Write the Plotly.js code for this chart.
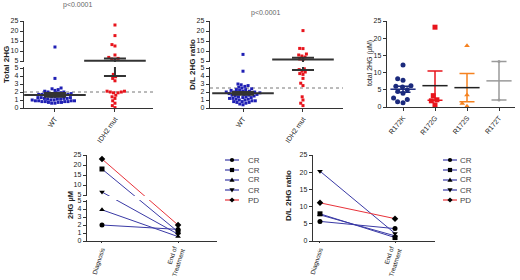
<!DOCTYPE html>
<html><head><meta charset="utf-8">
<script src="https://cdn.plot.ly/plotly-3.0.1.min.js"></script>
<style>html,body{margin:0;padding:0;background:#fff}#chart{width:520px;height:280px}</style>
</head><body><div id="chart"></div>
<script>
// ---------------- DATA ----------------
const groups12 = ['WT', 'IDH2 mut'];
const pLabel = 'p<0.0001';
const total2hgWT = [12.0, 3.7, 2.5, 2.4, 2.3, 2.2, 2.1, 2.0, 2.0, 1.9, 1.9, 1.8, 1.8, 1.8, 1.7, 1.7, 1.7, 1.6, 1.6, 1.5, 1.5, 1.5, 1.4, 1.4, 1.3, 1.3, 1.3, 1.2, 1.2, 1.2, 1.1, 1.1, 1.1, 1.0, 1.0, 1.0, 0.9, 0.9, 0.9, 0.9, 0.8, 0.8, 0.8, 0.8, 0.7, 0.7, 0.7, 0.6, 0.6];
const total2hgIDH2 = [23.0, 17.7, 13.2, 12.5, 8.0, 6.8, 6.3, 6.0, 5.8, 4.2, 3.9, 3.7, 3.4, 2.1, 2.1, 2.0, 2.0, 1.9, 1.9, 1.6, 1.4, 1.2, 0.9, 0.6, 0.3, 0.05];
const total2hgCutoff = 2.0;
const ratioWT = [8.3, 4.6, 3.0, 2.9, 2.8, 2.7, 2.6, 2.5, 2.4, 2.3, 2.3, 2.2, 2.2, 2.1, 2.1, 2.0, 2.0, 2.0, 1.9, 1.9, 1.9, 1.8, 1.8, 1.8, 1.7, 1.7, 1.6, 1.6, 1.5, 1.5, 1.4, 1.4, 1.3, 1.3, 1.2, 1.2, 1.1, 1.1, 1.0, 1.0, 0.9, 0.9, 0.8, 0.8, 0.7, 0.7, 0.6, 0.5, 0.4];
const ratioIDH2 = [20.2, 11.3, 11.2, 8.5, 8.0, 7.5, 7.0, 6.0, 5.7, 4.9, 4.8, 4.6, 4.5, 4.3, 4.2, 3.7, 3.1, 2.8, 1.4, 1.0, 0.6, 0.3];
const ratioCutoff = 2.5;

const r172Groups = ['R172K', 'R172G', 'R172S', 'R172T'];
const r172K = [12.2, 8.2, 7.8, 6.2, 6.0, 5.8, 5.0, 4.5, 4.0, 2.6, 2.2, 1.5, 1.2];
const r172G = [23.2, 3.3, 2.1, 1.8, 0.6];
const r172S = [17.8, 3.5, 1.0, 0.2];
const r172T = [13.2, 2.0];

const timepoints = ['Diagnosis', 'End of<br>Treatment'];
const responseLabels = ['CR', 'CR', 'CR', 'CR', 'PD'];
const total2hgDiagnosis = [2.0, 18.0, 3.9, 6.5, 23.0];
const total2hgEnd = [1.45, 1.15, 0.55, 0.85, 2.0];
const ratioDiagnosis = [5.7, 7.9, 7.6, 20.3, 11.1];
const ratioEnd = [3.6, 1.0, 1.5, 2.2, 6.5];

// ---------------- STYLE / GEOMETRY ----------------
const W = 520, H = 280;
const FONT = 'Liberation Sans, Arial, sans-serif';
const AX = '#333';
const blue = '#1f1fb4', red = '#e8141c', navy = '#1b2a7d', orange = '#f58220', grey = '#9a9a9a';
const lineBlue = '#3a3aa6', lineRed = '#e8323a';
const symbols = ['circle', 'square', 'triangle-up', 'triangle-down', 'diamond'];

const G = {
  p1: {x0: 24, x1: 153, yT: 21, yB: 108, gapPx: 7, xr: [-0.516, 1.634]},
  p2: {x0: 210, x1: 343, yT: 21, yB: 108, gapPx: 7, xr: [-0.55, 1.667]},
  p3: {x0: 387, x1: 515, yT: 21, yB: 107, xr: [-0.5, 3.5]},
  p4: {x0: 87, x1: 217, yT: 155, yB: 241, gapPx: 6, xr: [-0.197, 1.512]},
  p5: {x0: 313, x1: 435, yT: 155, yB: 241, xr: [-0.093, 1.533]}
};
// broken axis: lower 0-5, upper 5-25 compressed 4x
function mkBreak(p) {
  p.lowPx = (p.yB - p.yT - p.gapPx) / 2;
  p.pxU = p.lowPx / 5;
  p.g = p.gapPx / p.pxU;
  p.tf = v => v <= 5 ? v : 5 + p.g + (v - 5) / 4;
  p.yr = [0, p.tf(25)];
}
[G.p1, G.p2, G.p4].forEach(mkBreak);
G.p3.tf = v => v; G.p3.yr = [0, 25]; G.p3.pxU = (G.p3.yB - G.p3.yT) / 25;
G.p5.tf = v => v; G.p5.yr = [0, 25];
for (const k in G) { const p = G[k]; p.pxX = (p.x1 - p.x0) / (p.xr[1] - p.xr[0]); }

function swarm(vals, tf, pxPerY, pxPerX, d) {
  const idx = vals.map((v, i) => i).sort((a, b) => vals[a] - vals[b]);
  const placed = [], off = new Array(vals.length);
  for (const i of idx) {
    const y = tf(vals[i]) * pxPerY;
    const near = placed.filter(p => Math.abs(p.y - y) < d);
    const c = [0];
    near.forEach(p => { const dx = Math.sqrt(d * d - (p.y - y) ** 2); c.push(p.x + dx + 0.01, p.x - dx - 0.01); });
    const ok = c.filter(cx => near.every(p => (p.x - cx) ** 2 + (p.y - y) ** 2 >= d * d - 1e-6));
    ok.sort((a, b) => Math.abs(a) - Math.abs(b) || a - b);
    placed.push({x: ok[0], y}); off[i] = ok[0] / pxPerX;
  }
  return off;
}
function stats(v) {
  const n = v.length, m = v.reduce((a, b) => a + b, 0) / n;
  const sd = Math.sqrt(v.reduce((a, b) => a + (b - m) ** 2, 0) / (n - 1));
  return {m, se: sd / Math.sqrt(n)};
}

const traces = [];
function dotGroup(vals, pos, p, ax, color, sym, size, d) {
  const off = swarm(vals, p.tf, p.pxU, p.pxX, d);
  traces.push({type: 'scatter', mode: 'markers', xaxis: 'x' + ax, yaxis: 'y' + ax,
    x: vals.map((v, i) => pos + off[i]), y: vals.map(p.tf), cliponaxis: false,
    marker: {color, symbol: sym, size, line: {width: 0}}, hoverinfo: 'skip'});
}
function meanBar(vals, pos, p, ax, meanColor, errColor, meanW, capW, lw) {
  const s = stats(vals);
  const t = p.tf(s.m);
  traces.push({type: 'scatter', mode: 'markers', xaxis: 'x' + ax, yaxis: 'y' + ax, x: [pos], y: [t], cliponaxis: false,
    marker: {symbol: 'line-ew-open', size: meanW, color: meanColor, line: {width: lw, color: meanColor}},
    error_y: {type: 'data', symmetric: false, array: [p.tf(s.m + s.se) - t], arrayminus: [t - p.tf(Math.max(0, s.m - s.se))],
      width: capW, thickness: lw, color: errColor}, hoverinfo: 'skip'});
}

// Panel 1 & 2
dotGroup(total2hgWT, 0, G.p1, '', blue, 'square', 3, 3.3);
dotGroup(total2hgIDH2, 1, G.p1, '', red, 'square', 3, 3.3);
meanBar(total2hgWT, 0, G.p1, '', AX, AX, 44, 11, 2);
meanBar(total2hgIDH2, 1, G.p1, '', AX, AX, 44, 11, 2);
dotGroup(ratioWT, 0, G.p2, '2', blue, 'square', 3, 3.3);
dotGroup(ratioIDH2, 1, G.p2, '2', red, 'square', 3, 3.3);
meanBar(ratioWT, 0, G.p2, '2', AX, AX, 44, 11, 2);
meanBar(ratioIDH2, 1, G.p2, '2', AX, AX, 44, 11, 2);

// Panel 3
const r172Vals = [r172K, r172G, r172S, r172T];
const r172Col = [navy, red, orange, grey];
const r172Sym = ['circle', 'square', 'triangle-up', 'circle'];
const r172Mean = [navy, '#222', '#222', grey];
r172Vals.forEach((v, i) => {
  dotGroup(v, i, G.p3, '3', r172Col[i], r172Sym[i], i === 3 ? 3 : 5, 5.5);
  meanBar(v, i, G.p3, '3', r172Mean[i], r172Col[i], 18, 7.5, 1.5);
});

// Panel 4 & 5
function paired(diag, end, p, ax) {
  diag.forEach((d, i) => {
    traces.push({type: 'scatter', mode: 'lines+markers', xaxis: 'x' + ax, yaxis: 'y' + ax,
      x: [0, 1], y: [p.tf(d), p.tf(end[i])], cliponaxis: false,
      line: {color: responseLabels[i] === 'PD' ? lineRed : lineBlue, width: 1},
      marker: {symbol: symbols[i], size: 5, color: '#000'}, hoverinfo: 'skip'});
  });
}
paired(total2hgDiagnosis, total2hgEnd, G.p4, '4');
paired(ratioDiagnosis, ratioEnd, G.p5, '5');

// ---------------- LAYOUT ----------------
const layout = {width: W, height: H, margin: {l: 0, r: 0, t: 0, b: 0}, showlegend: false,
  paper_bgcolor: '#fff', plot_bgcolor: 'rgba(0,0,0,0)', font: {family: FONT, size: 7, color: '#222'},
  shapes: [], annotations: []};

function brokenTicks(p) {
  const v = [0, 1, 2, 3, 4, 5], txt = v.map(String);
  [5.00001, 10, 15, 20, 25].forEach(u => { v.push(p.tf(u)); txt.push(String(Math.round(u))); });
  return {tickvals: v, ticktext: txt};
}
function axes(key, ax, xticks, tickangle, broken, xfont, xticklen) {
  const p = G[key];
  const xa = {domain: [p.x0 / W, p.x1 / W], range: p.xr, anchor: 'y' + ax, showgrid: false, zeroline: false,
    showline: true, linecolor: AX, linewidth: 1.3, ticks: 'outside', ticklen: xticklen, tickwidth: 1, tickcolor: AX,
    tickvals: xticks.map((t, i) => i), ticktext: xticks, tickangle, tickfont: {size: xfont, color: '#222'}, fixedrange: true};
  const ya = {domain: [(H - p.yB) / H, (H - p.yT) / H], range: p.yr, anchor: 'x' + ax, showgrid: false, zeroline: false,
    showline: true, linecolor: AX, linewidth: 1.3, ticks: 'outside', ticklen: 3, tickwidth: 1, tickcolor: AX,
    tickfont: {size: 7, color: '#222'}, fixedrange: true};
  if (broken) Object.assign(ya, brokenTicks(p)); else Object.assign(ya, {tickvals: [0, 5, 10, 15, 20, 25]});
  layout['xaxis' + ax] = xa; layout['yaxis' + ax] = ya;
  if (broken) layout.shapes.push({type: 'rect', layer: 'above', xref: 'x' + ax + ' domain', yref: 'y' + ax,
    x0: -0.04, x1: 1.02, y0: 5 + 0.13, y1: 5 + p.g - 0.13, fillcolor: '#fff', line: {width: 0}});
}
axes('p1', '', groups12, -55, true, 7, 3);
axes('p2', '2', groups12, -55, true, 7, 3);
axes('p3', '3', r172Groups, -50, false, 7, 3);
axes('p4', '4', timepoints, -72, true, 6.3, 1);
axes('p5', '5', timepoints, -72, false, 6.3, 1);

// cutoff dotted lines
layout.shapes.push({type: 'line', layer: 'below', xref: 'x domain', yref: 'y', x0: 0, x1: 1, y0: G.p1.tf(total2hgCutoff), y1: G.p1.tf(total2hgCutoff), line: {color: '#777', width: 1, dash: 'dot'}});
layout.shapes.push({type: 'line', layer: 'below', xref: 'x2 domain', yref: 'y2', x0: 0, x1: 1, y0: G.p2.tf(ratioCutoff), y1: G.p2.tf(ratioCutoff), line: {color: '#777', width: 1, dash: 'dot'}});

// text
function ann(text, px, py, opts) {
  layout.annotations.push(Object.assign({text, xref: 'paper', yref: 'paper', x: px / W, y: (H - py) / H,
    showarrow: false, xanchor: 'center', yanchor: 'middle', font: {size: 7, color: '#222', family: FONT}}, opts || {}));
}
ann(pLabel, 77, 5, {font: {size: 7, color: '#666', family: FONT}});
ann(pLabel, 265, 13, {font: {size: 7, color: '#666', family: FONT}});
ann('<b>Total 2HG</b>', 7, 65, {textangle: -90, font: {size: 8, color: '#222', family: FONT}});
ann('<b>D/L 2HG ratio</b>', 193, 65, {textangle: -90, font: {size: 8, color: '#222', family: FONT}});
ann('total 2HG (µM)', 370, 63, {textangle: -90, font: {size: 7, color: '#222', family: FONT}});
ann('<b>2HG µM</b>', 70, 205, {textangle: -90, font: {size: 7.5, color: '#222', family: FONT}});
ann('<b>D/L 2HG ratio</b>', 288, 196, {textangle: -90, font: {size: 8, color: '#222', family: FONT}});

// manual legends
function legend(lx, tx) {
  responseLabels.forEach((lab, i) => {
    const y = 160 + i * 10;
    const c = lab === 'PD' ? lineRed : lineBlue;
    const X = v => v / W, Y = v => (H - v) / H;
    layout.shapes.push({type: 'line', xref: 'paper', yref: 'paper', x0: X(lx), x1: X(lx + 14), y0: Y(y), y1: Y(y), line: {color: c, width: 1.2}});
    const cx = lx + 7, r = 2.1;
    const sh = {xref: 'paper', yref: 'paper', fillcolor: '#000', line: {width: 0}};
    if (symbols[i] === 'circle') layout.shapes.push(Object.assign({type: 'circle', x0: X(cx - r), x1: X(cx + r), y0: Y(y + r), y1: Y(y - r)}, sh));
    else if (symbols[i] === 'square') layout.shapes.push(Object.assign({type: 'rect', x0: X(cx - r), x1: X(cx + r), y0: Y(y + r), y1: Y(y - r)}, sh));
    else {
      let pts;
      if (symbols[i] === 'triangle-up') pts = [[cx, y - 2.6], [cx + 2.6, y + 1.8], [cx - 2.6, y + 1.8]];
      else if (symbols[i] === 'triangle-down') pts = [[cx, y + 2.6], [cx + 2.6, y - 1.8], [cx - 2.6, y - 1.8]];
      else pts = [[cx, y - 2.6], [cx + 2.6, y], [cx, y + 2.6], [cx - 2.6, y]];
      const path = 'M' + pts.map(q => X(q[0]) + ',' + Y(q[1])).join('L') + 'Z';
      layout.shapes.push(Object.assign({type: 'path', path}, sh));
    }
    ann(lab, tx, y, {xanchor: 'left', font: {size: 8, color: '#444', family: FONT}});
  });
}
legend(225, 246);
legend(443, 458);

Plotly.newPlot('chart', traces, layout, {staticPlot: true, displayModeBar: false});
</script></body></html>
